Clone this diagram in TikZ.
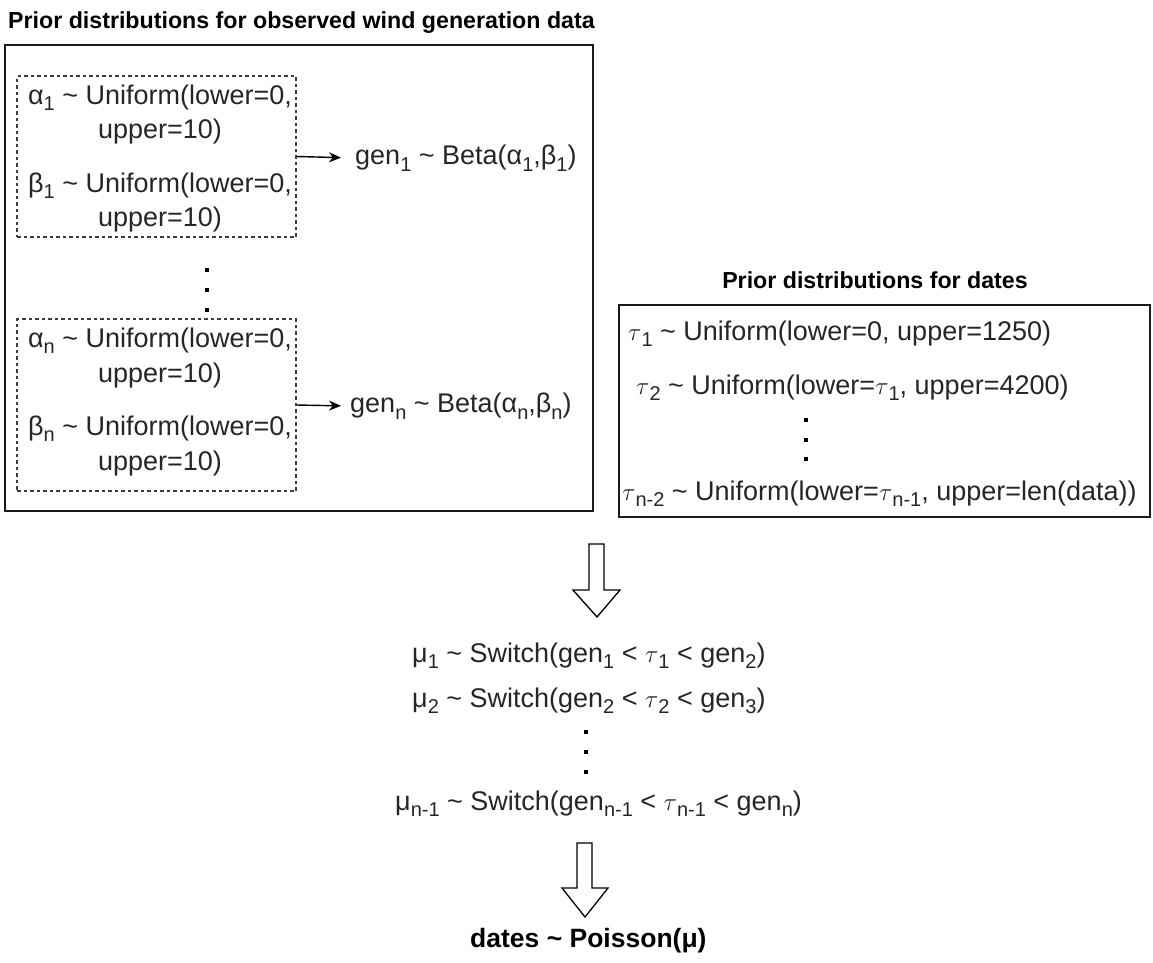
\documentclass[tikz,border=0pt]{standalone}
\usepackage{fontspec}
\setmainfont{Liberation Sans}
\usetikzlibrary{arrows.meta}
\newcommand{\sbs}[1]{\raisebox{-0.24em}{\fontsize{20}{20}\selectfont #1}}
\newcommand{\tv}{$\tau$}
\definecolor{txt}{HTML}{262626}
\definecolor{lin}{HTML}{1A1A1A}
\tikzset{
  body/.style={font=\fontsize{27}{32}\selectfont, text=txt, inner sep=0pt},
  ttl/.style={font=\fontsize{23.2}{28}\selectfont\bfseries, text=black, inner sep=0pt},
  bigbox/.style={draw=lin, line width=1.4pt, inner sep=0pt},
  dbox/.style={draw=lin!85, line width=1.1pt, dash pattern=on 3.5pt off 3pt, inner sep=0pt},
  arr/.style={draw=black, line width=1.4pt, -{Stealth[length=12pt,width=10pt]}},
  hollow/.style={draw=black, line width=1.3pt, fill=white, line join=miter},
  dotsq/.style={fill=black, draw=none, minimum size=4.5pt, inner sep=0pt}
}
\begin{document}
\begin{tikzpicture}[x=1pt,y=-1pt]
\useasboundingbox[fill=white] (0,0) rectangle (1153,962);

% titles
\node[ttl, anchor=base west] (t1) at (8,28) {Prior distributions for observed wind generation data};
\node[ttl, anchor=base] (t2) at (875,288) {Prior distributions for dates};

% boxes
\node[bigbox, minimum width=588pt, minimum height=466pt] (ob1) at (299,278) {};
\node[bigbox, minimum width=531pt, minimum height=212pt] (ob2) at (884.5,411) {};
\node[dbox, minimum width=279pt, minimum height=161pt] (db1) at (156.5,156.5) {};
\node[dbox, minimum width=279pt, minimum height=172pt] (dbn) at (156.5,405) {};

% box 1 text
\node[body, anchor=base] (a1) at (160,104) {α\sbs{1} \char`\~{} Uniform(lower=0,};
\node[body, anchor=base] (a1u) at (160,138) {upper=10)};
\node[body, anchor=base] (b1) at (160,192) {β\sbs{1} \char`\~{} Uniform(lower=0,};
\node[body, anchor=base] (b1u) at (160,226) {upper=10)};
\node[body, anchor=base] (an) at (160,347) {α\sbs{n} \char`\~{} Uniform(lower=0,};
\node[body, anchor=base] (anu) at (160,382) {upper=10)};
\node[body, anchor=base] (bn) at (160,435) {β\sbs{n} \char`\~{} Uniform(lower=0,};
\node[body, anchor=base] (bnu) at (160,470) {upper=10)};

\node[body, anchor=west] (g1) at (355,158) {gen\sbs{1} \char`\~{} Beta(α\sbs{1},β\sbs{1})};
\node[body, anchor=west] (gn) at (350,406) {gen\sbs{n} \char`\~{} Beta(α\sbs{n},β\sbs{n})};
\draw[arr, shorten >=14pt] (db1.east) -- (g1.west);
\draw[arr, shorten >=9pt] (dbn.east) -- (gn.west);

% dots box 1
\node[dotsq] (d11) at (207,270) {};
\node[dotsq] (d12) at (207,290) {};
\node[dotsq] (d13) at (207,310) {};

% box 2 text
\node[body, anchor=base west] (ta) at (628,340) {\tv\sbs{1} \char`\~{} Uniform(lower=0, upper=1250)};
\node[body, anchor=base west] (tb) at (636,394) {\tv\sbs{2} \char`\~{} Uniform(lower=\tv\sbs{1}, upper=4200)};
\node[dotsq] (d21) at (806,420) {};
\node[dotsq] (d22) at (806,440) {};
\node[dotsq] (d23) at (806,459) {};
\node[body, anchor=base west] (tc) at (622,500) {\tv\sbs{n-2} \char`\~{} Uniform(lower=\tv\sbs{n-1}, upper=len(data))};

% hollow arrows
\draw[hollow] (589,544) -- (604,544) -- (604,590) -- (620,590) -- (597,617) -- (573,590) -- (589,590) -- cycle;
\draw[hollow] (577,843) -- (592,843) -- (592,888) -- (608,888) -- (585,917) -- (562,888) -- (577,888) -- cycle;

% switch lines
\node[body, anchor=base west] (m1) at (412,662) {μ\sbs{1} \char`\~{} Switch(gen\sbs{1} < \tv\sbs{1} < gen\sbs{2})};
\node[body, anchor=base west] (m2) at (412,707) {μ\sbs{2} \char`\~{} Switch(gen\sbs{2} < \tv\sbs{2} < gen\sbs{3})};
\node[dotsq] (d31) at (586,732) {};
\node[dotsq] (d32) at (586,752) {};
\node[dotsq] (d33) at (586,772) {};
\node[body, anchor=base west] (mn) at (395,810) {μ\sbs{n-1} \char`\~{} Switch(gen\sbs{n-1} < \tv\sbs{n-1} < gen\sbs{n})};

\node[ttl, font=\fontsize{26.5}{30}\selectfont\bfseries, anchor=base west] (dt) at (470,947) {dates \char`\~{} Poisson(μ)};
\end{tikzpicture}
\end{document}
